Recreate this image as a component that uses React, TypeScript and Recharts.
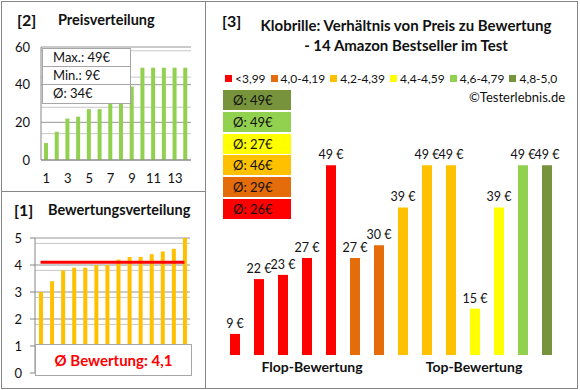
import React from "react";
import {
  BarChart,
  ComposedChart,
  Bar,
  Line,
  XAxis,
  YAxis,
  CartesianGrid,
  Cell,
  LabelList,
} from "recharts";

const FONT = "Lato, 'Open Sans', sans-serif";
const INK = "#111";
const FRAME = "#868686";

// [2] Preisverteilung (sorted prices)
const priceRanks = ["1", "2", "3", "4", "5", "6", "7", "8", "9", "10", "11", "12", "13", "14"];
const sortedPrices = [9, 15, 22, 23, 27, 27, 30, 30, 39, 49, 49, 49, 49, 49];
const priceStats = ["Max.: 49€", "Min.: 9€", "Ø: 34€"];
const priceTicks = [0, 10, 20, 30, 40, 50, 60];
const priceMinor = [2, 4, 6, 8, 12, 14, 16, 18, 22, 24, 26, 28, 32, 34, 36, 38, 42, 44, 46, 48, 52, 54, 56, 58];

// [1] Bewertungsverteilung (sorted ratings)
const sortedRatings = [3.0, 3.4, 3.8, 3.9, 3.9, 4.0, 4.0, 4.2, 4.3, 4.3, 4.4, 4.5, 4.6, 5.0];
const avgRating = 4.1;
const avgRatingText = "Ø Bewertung: 4,1";
const ratingTicks = [0, 1, 2, 3, 4, 5];
const ratingMinor = [
  0.2, 0.4, 0.6, 0.8, 1.2, 1.4, 1.6, 1.8, 2.2, 2.4, 2.6, 2.8, 3.2, 3.4, 3.6, 3.8, 4.2, 4.4, 4.6, 4.8,
];

// [3] Preis zu Bewertung
const ratingClasses = ["<3,99", "4,0-4,19", "4,2-4,39", "4,4-4,59", "4,6-4,79", "4,8-5,0"];
const classColors = ["#FF0000", "#E46C0A", "#FFC000", "#FFFF00", "#92D050", "#77933C"];
const classAvgPrices = [26, 29, 46, 27, 49, 49];
const productPrices = [9, 22, 23, 27, 49, 27, 30, 39, 49, 49, 15, 39, 49, 49];
const productClass = [0, 0, 0, 0, 0, 1, 1, 2, 2, 2, 3, 3, 4, 5];
const groupLabels = ["", "", "", "Flop-Bewertung", "", "", "", "", "", "", "Top-Bewertung", "", "", ""];

const priceData = priceRanks.map((rank, i) => ({ rank, price: sortedPrices[i] }));
const ratingData = sortedRatings.map((rating, i) => ({ rank: i + 1, rating, avg: avgRating }));
const productData = productPrices.map((price, i) => ({
  group: groupLabels[i],
  price,
  cls: productClass[i],
}));

const GroupTick = (props: any) => {
  const { x, y, payload } = props;
  if (!payload.value) return null;
  const shift = payload.value === "Flop-Bewertung" ? 5 : -1;
  return (
    <text
      x={x + shift}
      y={y}
      dy={11}
      textAnchor="middle"
      fontFamily={FONT}
      fontWeight={700}
      fontSize={14}
      fill={INK}
    >
      {payload.value}
    </text>
  );
};

const tickStyle = { fontFamily: FONT, fontSize: 13, fill: INK };

function Title({ x, y, size, children }: { x: number; y: number; size: number; children: React.ReactNode }) {
  return (
    <div
      style={{
        position: "absolute",
        left: x,
        top: y - size / 2,
        height: size,
        lineHeight: `${size}px`,
        fontSize: size,
        fontWeight: 700,
        fontFamily: FONT,
        color: INK,
        whiteSpace: "nowrap",
      }}
    >
      {children}
    </div>
  );
}

export default function App() {
  return (
    <div
      style={{
        position: "absolute",
        left: 0,
        top: 0,
        width: 580,
        height: 390,
        background: "#fff",
        fontFamily: FONT,
        overflow: "hidden",
      }}
    >
      {/* frames */}
      <div style={{ position: "absolute", left: 1, top: 1, width: 575, height: 386, border: `1px solid ${FRAME}` }} />
      <div style={{ position: "absolute", left: 205, top: 1, width: 1, height: 387, background: FRAME }} />
      <div style={{ position: "absolute", left: 1, top: 191, width: 205, height: 1, background: FRAME }} />

      {/* [2] Preisverteilung */}
      <Title x={17} y={20} size={16}>[2]</Title>
      <Title x={58} y={20} size={14.5}>Preisverteilung</Title>
      <div style={{ position: "absolute", left: 0, top: 0 }}>
        <BarChart width={205} height={191} data={priceData} margin={{ top: 47, right: 14, bottom: 0, left: 0 }}>
          <CartesianGrid vertical={false} horizontalValues={priceMinor} stroke="#C8C8C8" />
          <CartesianGrid vertical={false} horizontalValues={priceTicks} stroke="#969696" />
          <XAxis
            dataKey="rank"
            interval={1}
            height={31}
            tickSize={0}
            tickMargin={14}
            tickLine={false}
            axisLine={{ stroke: FRAME }}
            tick={tickStyle}
          />
          <YAxis
            domain={[0, 60]}
            ticks={priceTicks}
            width={41}
            tickSize={0}
            tickMargin={11}
            tickLine={false}
            axisLine={{ stroke: FRAME }}
            tick={tickStyle}
          />
          <Bar dataKey="price" fill="#92D050" barSize={4} isAnimationActive={false} />
        </BarChart>
      </div>
      <div
        style={{
          position: "absolute",
          left: 42,
          top: 48,
          width: 87,
          background: "#fff",
          border: "1px solid #A6A6A6",
        }}
      >
        {priceStats.map((s, i) => (
          <div
            key={s}
            style={{
              height: i === 2 ? 18 : 17,
              lineHeight: "17px",
              paddingLeft: 10,
              fontSize: 13,
              color: INK,
              borderTop: i > 0 ? "1px solid #A6A6A6" : "none",
            }}
          >
            {s}
          </div>
        ))}
      </div>

      {/* [1] Bewertungsverteilung */}
      <Title x={14} y={210} size={16}>[1]</Title>
      <Title x={48} y={210} size={14.5}>Bewertungsverteilung</Title>
      <div style={{ position: "absolute", left: 0, top: 191 }}>
        <ComposedChart width={205} height={198} data={ratingData} margin={{ top: 47, right: 15, bottom: 16, left: 0 }}>
          <CartesianGrid vertical={false} horizontalValues={ratingMinor} stroke="#C8C8C8" />
          <CartesianGrid vertical={false} horizontalValues={ratingTicks} stroke="#969696" />
          <XAxis dataKey="rank" hide />
          <YAxis
            domain={[0, 5]}
            ticks={ratingTicks}
            width={35}
            tickSize={5}
            tickMargin={8}
            tickLine={{ stroke: FRAME }}
            axisLine={{ stroke: FRAME }}
            tick={tickStyle}
          />
          <Bar dataKey="rating" fill="#FFC000" barSize={4} isAnimationActive={false} />
          <Line dataKey="avg" stroke="#FF0000" strokeWidth={3} dot={false} isAnimationActive={false} />
        </ComposedChart>
      </div>
      <div
        style={{
          position: "absolute",
          left: 35,
          top: 344,
          width: 155,
          height: 30,
          background: "#fff",
          border: "1px solid #A6A6A6",
          textAlign: "center",
          lineHeight: "30px",
          fontSize: 15,
          fontWeight: 700,
          color: "#FF0000",
        }}
      >
        {avgRatingText}
      </div>

      {/* [3] Preis zu Bewertung */}
      <Title x={222} y={21} size={16}>[3]</Title>
      <div
        style={{
          position: "absolute",
          left: 206,
          width: 400,
          top: 15,
          textAlign: "center",
          fontSize: 15,
          fontWeight: 700,
          lineHeight: "20px",
          color: INK,
        }}
      >
        Klobrille: Verhältnis von Preis zu Bewertung
        <br />- 14 Amazon Bestseller im Test
      </div>
      <div
        style={{
          position: "absolute",
          left: 225,
          top: 71,
          display: "flex",
          alignItems: "center",
          height: 14,
          fontSize: 12,
          color: INK,
          whiteSpace: "nowrap",
        }}
      >
        {ratingClasses.map((c, i) => (
          <div key={c} style={{ display: "flex", alignItems: "center", marginRight: 5 }}>
            <div style={{ width: 7, height: 7, background: classColors[i], marginRight: 3 }} />
            <span>{c}</span>
          </div>
        ))}
      </div>
      <div
        style={{
          position: "absolute",
          left: 469,
          top: 90,
          fontSize: 13,
          lineHeight: "14px",
          color: INK,
        }}
      >
        ©Testerlebnis.de
      </div>
      {classAvgPrices
        .map((p, i) => ({ p, color: classColors[i] }))
        .reverse()
        .map((b, i) => (
          <div
            key={i}
            style={{
              position: "absolute",
              left: 223,
              top: 90 + i * 21.8,
              width: 68,
              height: 20,
              background: b.color,
              lineHeight: "20px",
              fontSize: 13,
              color: INK,
              paddingLeft: 10,
              boxSizing: "border-box",
            }}
          >
            Ø: {b.p}€
          </div>
        ))}
      <div style={{ position: "absolute", left: 205, top: 130 }}>
        <BarChart width={372} height={258} data={productData} margin={{ top: 31, right: 18, bottom: 3, left: 18 }}>
          <XAxis
            dataKey="group"
            interval={0}
            height={30}
            tickSize={0}
            tickMargin={6}
            tickLine={false}
            axisLine={false}
            tick={<GroupTick />}
          />
          <YAxis domain={[4, 50]} hide />
          <Bar dataKey="price" barSize={10} isAnimationActive={false}>
            {productData.map((d, i) => (
              <Cell key={i} fill={classColors[d.cls]} />
            ))}
            <LabelList
              dataKey="price"
              position="top"
              offset={6}
              formatter={(v: any) => `${v}\u00A0€`}
              style={{ fontFamily: FONT, fontSize: 12.5, fill: INK }}
            />
          </Bar>
        </BarChart>
      </div>
    </div>
  );
}
